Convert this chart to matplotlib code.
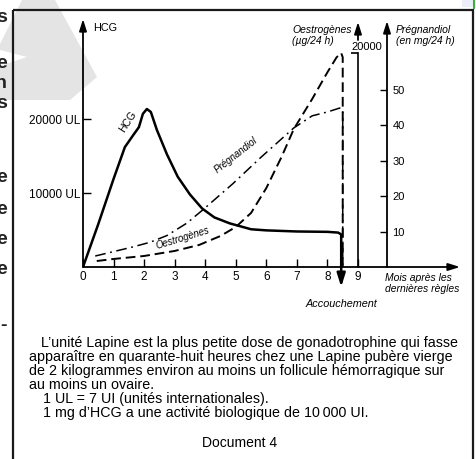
import matplotlib
matplotlib.use("Agg")
import matplotlib.pyplot as plt
from matplotlib.patches import Polygon, Rectangle

plt.rcParams["font.family"] = ["Liberation Sans", "DejaVu Sans"]

# --- data ---
months_hcg = [0, 0.5, 1.0, 1.37, 1.64, 1.83, 1.96, 2.09, 2.22, 2.42, 2.75, 3.1, 3.5, 3.9,
              4.3, 4.8, 5.5, 6.0, 7.0, 8.0, 8.35, 8.45, 8.45]
hcg_ul = [0, 5800, 11900, 16200, 17800, 18900, 20700, 21350, 20950, 18500, 15200, 12200,
          9800, 7900, 6700, 5900, 5100, 4950, 4800, 4750, 4650, 4400, 0]

months_oes = [0.45, 1.0, 2.0, 3.0, 3.8, 4.5, 5.0, 5.5, 6.0, 6.5, 6.9, 7.5, 8.0, 8.3, 8.45, 8.5, 8.5]
oes_ug = [560, 750, 1030, 1500, 2060, 2900, 3740, 5050, 7380, 10300, 12900, 15700, 18200,
          19600, 20000, 19600, 0]

months_preg = [0.4, 1.6, 2.2, 2.75, 3.4, 3.93, 4.9, 5.8, 6.9, 7.5, 8.0, 8.4, 8.5, 8.5]
preg_mg = [3.1, 5.6, 7.0, 8.9, 12.4, 16.2, 23.5, 30.8, 39.3, 42.7, 43.8, 44.9, 44.5, 0]

delivery_month = 8.45
month_ticks = list(range(10))
hcg_ticks = [10000, 20000]
oes_ticks = [20000]
preg_ticks = [10, 20, 30, 40, 50]

note_lines = [
    "L\u2019unité Lapine est la plus petite dose de gonadotrophine qui fasse",
    "apparaître en quarante-huit heures chez une Lapine pubère vierge",
    "de 2 kilogrammes environ au moins un follicule hémorragique sur",
    "au moins un ovaire.",
    "1 UL = 7 UI (unités internationales).",
    "1 mg d\u2019HCG a une activité biologique de 10\u2009000 UI.",
]
margin_glyphs = ["s", "e", "n", "s", "e", "e", "e", "e", "-"]

# --- geometry (pixels of the 477x459 page) ---
W, H = 477, 459
X0, Y0 = 83, 267             # origin
PX_MONTH = (358 - 83) / 9    # px per month
X_END, Y_TOP = 460, 19
HCG_PX = 10000 / 74          # UL per px
OES_PX = 20000 / (267 - 53)  # ug per px
PREG_PX = 50 / (267 - 90)    # mg per px
PREG_AXIS = (387 - X0) / PX_MONTH

fig = plt.figure(figsize=(W / 100, H / 100), dpi=100)
page = fig.add_axes([0, 0, 1, 1])
page.set_xlim(0, W); page.set_ylim(H, 0); page.axis("off")

# scan artefacts: watermark, neighbouring page letters, frame
page.add_patch(Polygon([(22, 0), (55, 0), (97, 77), (70, 100), (0, 100), (0, 66),
                        (27, 57), (0, 50), (0, 44)], closed=True, fc="#e4e4e4", ec="none"))
for g, yy in zip(margin_glyphs, [17, 64, 84, 104, 178, 209, 240, 270, 326]):
    page.text(7, yy, g, ha="right", va="center", fontsize=14, fontweight="bold", color="#222")
page.add_patch(Rectangle((13, 10), 460, 470, fill=False, ec="#1a1a1a", lw=1.6))
page.add_patch(Rectangle((462, 0), 11, 7, fc="#eceefa", ec="none"))
page.plot([474, 474], [0, 8], color="#3cb43c", lw=1.5)

ax = fig.add_axes([X0 / W, 1 - Y0 / H, (X_END - X0) / W, (Y0 - Y_TOP) / H])
ax_o = ax.twinx()
ax_p = ax.twinx()
for a in (ax, ax_o, ax_p):
    a.set_facecolor("none")
    for s in a.spines.values():
        s.set_visible(False)
ax.set_xlim(0, (X_END - X0) / PX_MONTH)
ax.set_ylim(0, (Y0 - Y_TOP) * HCG_PX)
ax_o.set_ylim(0, (Y0 - Y_TOP) * OES_PX)
ax_p.set_ylim(0, (Y0 - Y_TOP) * PREG_PX)

arrow = dict(arrowstyle="-|>,head_length=0.7,head_width=0.22", color="k", lw=1.3,
             shrinkA=0, shrinkB=0)
ax.annotate("", xy=(0, 1), xytext=(0, 0), xycoords="axes fraction", arrowprops=arrow)
ax.annotate("", xy=(1, 0), xytext=(0, 0), xycoords="axes fraction", arrowprops=arrow)

# HCG axis
ax.set_yticks(hcg_ticks, labels=[f"{v} UL" for v in hcg_ticks])
ax.tick_params(axis="y", direction="in", length=6, width=1.0, pad=2, labelsize=8.5)
ax.set_xticks(month_ticks)
ax.tick_params(axis="x", direction="in", length=6, width=1.0, pad=3, labelsize=8.5)
page.text(93, 28, "HCG", fontsize=7.8, va="center", ha="left")

# Oestrogen axis at month 9
ax_o.spines["left"].set_position(("data", 9))
ax_o.spines["left"].set_bounds(0, oes_ticks[0])
ax_o.spines["left"].set_visible(True)
ax_o.spines["left"].set_linewidth(1.2)
ax_o.yaxis.tick_left()
ax_o.set_yticks(oes_ticks)
ax_o.tick_params(axis="y", direction="out", length=5, width=1.2, labelleft=False)
ax_o.annotate("", xy=(9, (Y0 - 22) / (Y0 - Y_TOP)), xytext=(9, (Y0 - 40) / (Y0 - Y_TOP)),
              xycoords=ax.get_xaxis_transform(), arrowprops=arrow)
ax_o.annotate(str(oes_ticks[0]), xy=(9, oes_ticks[0]), xytext=(6, 4), textcoords="offset points",
              ha="center", va="center", fontsize=8)
page.text(292, 25, "Oestrogènes\n(µg/24 h)", fontsize=7.5,
          style="italic", va="top", ha="left", linespacing=1.15)

# Pregnandiol axis
ax_p.spines["right"].set_position(("data", PREG_AXIS))
ax_p.set_yticks(preg_ticks)
ax_p.tick_params(axis="y", direction="in", length=5, width=1.0, pad=4, labelsize=8)
ax_p.annotate("", xy=(PREG_AXIS, (Y0 - 21) / (Y0 - Y_TOP)), xytext=(PREG_AXIS, 0),
              xycoords=ax.get_xaxis_transform(), arrowprops=arrow)
page.text(396, 25, "Prégnandiol\n(en mg/24 h)", fontsize=7.5,
          style="italic", va="top", ha="left", linespacing=1.15)

# curves
ax.plot(months_hcg, hcg_ul, color="k", lw=1.8, solid_joinstyle="round")
ax_o.plot(months_oes, oes_ug, color="k", lw=1.4, ls=(0, (5, 2.5)))
ax_p.plot(months_preg, preg_mg, color="k", lw=1.1, ls=(0, (7, 3, 1.2, 3)))
ax.annotate("", xy=(delivery_month, -20 * HCG_PX), xytext=(delivery_month, 0),
            arrowprops=dict(arrowstyle="-|>,head_length=0.8,head_width=0.25", color="k",
                            lw=1.8, shrinkA=0, shrinkB=0), annotation_clip=False)

# curve labels
page.text(128, 122, "HCG", rotation=57, ha="center", va="center", fontsize=7.5)
page.text(236, 155, "Prégnandiol", rotation=38, ha="center", va="center", fontsize=7,
          style="italic")
page.text(183, 238, "Oestrogènes", rotation=17, ha="center", va="center", fontsize=7,
          style="italic")
page.text(385, 273, "Mois après les\ndernières règles", ha="left", va="top", fontsize=7.5,
          style="italic", linespacing=1.15)
page.text(341, 304, "Accouchement", ha="center", va="center", fontsize=7.8, style="italic")

# note text
for line, (xx, yy) in zip(note_lines, [(41, 343), (29, 357), (29, 371), (29, 385),
                                       (43, 399), (43, 413)]):
    page.text(xx, yy, line, ha="left", va="center", fontsize=10.3)
page.text(240, 443, "Document 4", ha="center", va="center", fontsize=10)

fig.savefig("out.png", dpi=100)
